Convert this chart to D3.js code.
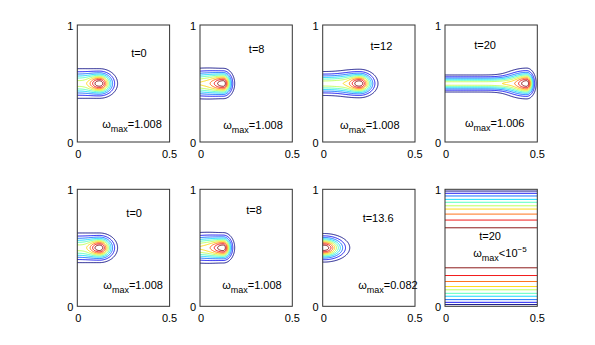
<!DOCTYPE html>
<html>
<head>
<meta charset="utf-8">
<script src="https://cdn.jsdelivr.net/npm/d3@7"></script>
<style>
  body { margin: 0; background: #fff; }
  text { font-family: "Liberation Sans", Arial, sans-serif; fill: #000; }
</style>
</head>
<body>
<script>
// panel labels, left to right, top row then bottom row
var timeLabels  = ["t=0", "t=8", "t=12", "t=20", "t=0", "t=8", "t=13.6", "t=20"];
var omegaValues = ["1.008", "1.008", "1.008", "1.006", "1.008", "1.008", "0.082", null];

// vortex core (domain units, x 0..0.5, y 0..1)
var vortexX     = [0.12, 0.126, 0.198, 0.443, 0.12, 0.126, 0.007];
var vortexLeft  = [0.08, 0.10, 0.08, 0.09, 0.08, 0.10, 0.088];    // scale behind the core
var vortexRight = [0.062, 0.039, 0.064, 0.032, 0.062, 0.039, 0.088]; // scale ahead of the core
var coreWidth   = [0.08, 0.082, 0.077, 0.083, 0.08, 0.082, 0.077];
// wake behind the vortex
var wakeLevel = [0.6, 0.6, 0.6, 0.6, 0.6, 0.6, 0];
var wakeWidth = [0.09, 0.09, 0.073, 0.052, 0.09, 0.09, 0.05];
var wakeStart = [0.08, 0.08, 0.07, 0.07, 0.08, 0.08, 0.08];

// last panel (t=20, bottom): flat contour lines, outer (blue) to inner (dark red)
var flatLinesTop = [0.985, 0.966, 0.943, 0.914, 0.889, 0.859, 0.831, 0.788, 0.737, 0.671];
var flatLinesBottom = [0.015, 0.034, 0.057, 0.086, 0.111, 0.141, 0.169, 0.212, 0.263, 0.329];

// text placement (domain units)
var timeLabelX = [0.334, 0.307, 0.318, 0.217, 0.308, 0.293, 0.30, 0.244];
var timeLabelY = [0.724, 0.758, 0.786, 0.795, 0.761, 0.788, 0.72, 0.566];
var omegaLabelX = [0.135, 0.126, 0.094, 0.108, 0.141, 0.12, 0.192, 0.153];
var omegaLabelY = [0.117, 0.108, 0.108, 0.13, 0.145, 0.145, 0.145, 0.42];

var nLevels = 10;
var q = 1.9; // radial decay exponent of the core

var W = 595, H = 345;
var panelLeft = [77.3, 200, 322.7, 445];
var panelTop = [25, 189.3];
var pw = 92.3, ph = 117;

var svg = d3.select("body").append("svg")
    .attr("width", W)
    .attr("height", H);

function jet(t) {
  var c = function(v) { return Math.max(0, Math.min(1, v)); };
  var r = c(1.5 - Math.abs(4 * t - 3)),
      g = c(1.5 - Math.abs(4 * t - 2)),
      b = c(1.5 - Math.abs(4 * t - 1));
  return d3.rgb(r * 255, g * 255, b * 255).toString();
}

// vorticity field for a panel, mirrored about the wall x=0
function field(p, x, y) {
  x = Math.abs(x);
  var dx = x - vortexX[p], dy = y - 0.5;
  var sx = dx < 0 ? vortexLeft[p] : vortexRight[p];
  var R = Math.sqrt(Math.pow(dx / sx, 2) + Math.pow(dy / coreWidth[p], 2));
  var core = Math.exp(-Math.pow(R, q));
  var behind = dx < 0 ? 1 - Math.exp(-Math.pow(dx / wakeStart[p], 2)) : 0;
  var wake = wakeLevel[p] * behind * Math.exp(-Math.pow(Math.abs(dy) / wakeWidth[p], q));
  return wake + (1 - wake) * core;
}

// sampling grid, wider than the box so open lines close outside the clip
var gx0 = -0.1, gx1 = 0.6, gy0 = -0.05, gy1 = 1.05, step = 0.004;
var nx = Math.round((gx1 - gx0) / step) + 1;
var ny = Math.round((gy1 - gy0) / step) + 1;

for (var p = 0; p < 8; p++) {
  var col = p % 4, row = Math.floor(p / 4);
  var x = d3.scaleLinear().domain([0, 0.5]).range([panelLeft[col], panelLeft[col] + pw]);
  var y = d3.scaleLinear().domain([0, 1]).range([panelTop[row] + ph, panelTop[row]]);

  var g = svg.append("g").attr("class", "panel");

  g.append("clipPath").attr("id", "clip" + p)
    .append("rect")
    .attr("x", x(0)).attr("y", y(1))
    .attr("width", x(0.5) - x(0)).attr("height", y(0) - y(1));

  var plot = g.append("g").attr("clip-path", "url(#clip" + p + ")");

  if (p < 7) {
    var values = new Array(nx * ny);
    for (var j = 0; j < ny; j++) {
      for (var i = 0; i < nx; i++) {
        values[j * nx + i] = field(p, gx0 + i * step, gy0 + j * step);
      }
    }
    var vmax = d3.max(values);
    var levels = d3.range(1, nLevels + 1).map(function(k) { return vmax * k / (nLevels + 1); });
    var contours = d3.contours().size([nx, ny]).thresholds(levels)(values);

    var path = d3.geoPath(d3.geoTransform({
      point: function(gxp, gyp) {
        this.stream.point(x(gx0 + (gxp - 0.5) * step), y(gy0 + (gyp - 0.5) * step));
      }
    }));

    plot.selectAll("path")
      .data(contours)
      .join("path")
      .attr("d", path)
      .attr("fill", "none")
      .attr("stroke", function(d, k) { return jet(k / (nLevels - 1)); })
      .attr("stroke-width", 0.9);
  } else {
    var lines = flatLinesTop.map(function(v, k) { return { y: v, k: k }; })
      .concat(flatLinesBottom.map(function(v, k) { return { y: v, k: k }; }));
    plot.selectAll("line")
      .data(lines)
      .join("line")
      .attr("x1", x(0)).attr("x2", x(0.5))
      .attr("y1", function(d) { return y(d.y); })
      .attr("y2", function(d) { return y(d.y); })
      .attr("stroke", function(d) { return jet(d.k / (nLevels - 1)); })
      .attr("stroke-width", 0.9);
  }

  // box
  g.append("rect")
    .attr("x", x(0)).attr("y", y(1))
    .attr("width", x(0.5) - x(0)).attr("height", y(0) - y(1))
    .attr("fill", "none")
    .attr("stroke", "#333")
    .attr("stroke-width", 1);

  // tick labels
  g.append("text").attr("x", x(0) - 4).attr("y", y(1) + 5)
    .attr("text-anchor", "end").attr("font-size", 11).text("1");
  g.append("text").attr("x", x(0) - 4).attr("y", y(0) + 5)
    .attr("text-anchor", "end").attr("font-size", 11).text("0");
  g.append("text").attr("x", x(0) + 1).attr("y", y(0) + 16)
    .attr("text-anchor", "middle").attr("font-size", 11).text("0");
  g.append("text").attr("x", x(0.5)).attr("y", y(0) + 16)
    .attr("text-anchor", "middle").attr("font-size", 11).text("0.5");

  // time label
  g.append("text")
    .attr("x", x(timeLabelX[p])).attr("y", y(timeLabelY[p]))
    .attr("text-anchor", "middle").attr("font-size", 11)
    .text(timeLabels[p]);

  // omega_max label
  var om = g.append("text")
    .attr("x", x(omegaLabelX[p])).attr("y", y(omegaLabelY[p]))
    .attr("font-size", 11);
  om.append("tspan").text("\u03c9");
  om.append("tspan").attr("font-size", 9).attr("dy", 4).text("max");
  if (omegaValues[p] !== null) {
    om.append("tspan").attr("dy", -4).text("=" + omegaValues[p]);
  } else {
    om.append("tspan").attr("dy", -4).text("<10");
    om.append("tspan").attr("font-size", 8).attr("dy", -5).text("\u22125");
  }
}
</script>
</body>
</html>
